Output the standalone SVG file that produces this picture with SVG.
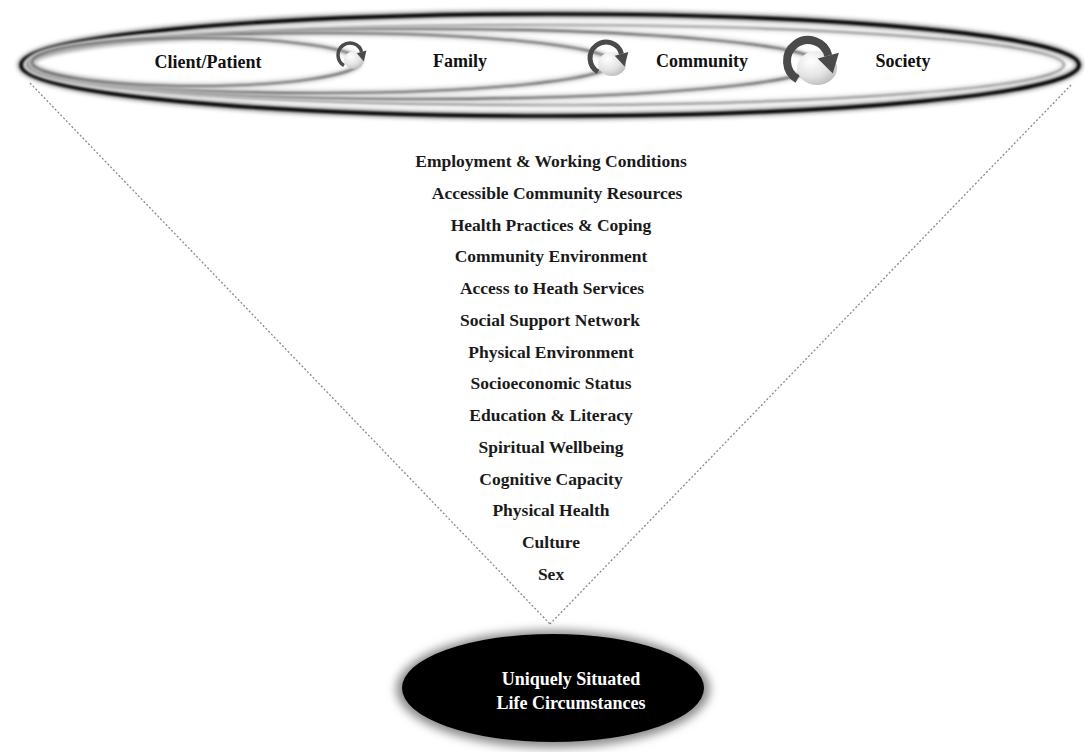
<svg xmlns="http://www.w3.org/2000/svg" width="1085" height="752" viewBox="0 0 1085 752">
  <defs>
    <filter id="soft" x="-5%" y="-30%" width="110%" height="160%">
      <feGaussianBlur stdDeviation="1.1"/>
    </filter>
    <filter id="softer" x="-5%" y="-40%" width="110%" height="180%">
      <feGaussianBlur stdDeviation="2.2"/>
    </filter>
    <filter id="glow" x="-20%" y="-40%" width="140%" height="180%">
      <feGaussianBlur stdDeviation="5"/>
    </filter>
    <radialGradient id="swirlFill" cx="0.35" cy="0.3" r="0.75">
      <stop offset="0" stop-color="#ffffff"/>
      <stop offset="0.6" stop-color="#e4e4e4"/>
      <stop offset="1" stop-color="#bdbdbd"/>
    </radialGradient>
  </defs>
  <style>
    .label { font-family: "Liberation Serif", "Times New Roman", serif; font-weight: bold; font-size: 18px; fill: #111; text-anchor: middle; }
    .factor { font-family: "Liberation Serif", "Times New Roman", serif; font-weight: bold; font-size: 17.5px; fill: #1a1a1a; text-anchor: middle; }
    .core { font-family: "Liberation Serif", "Times New Roman", serif; font-weight: bold; font-size: 18px; fill: #ffffff; text-anchor: middle; }
    .ring-halo { fill: none; stroke: #c4c4c4; stroke-width: 5; }
    .ring-line { fill: none; stroke: #5a5a5a; stroke-width: 1.6; }
    .swirl { fill: none; stroke: #4a4a4a; stroke-linecap: butt; }
    .swirl-head { fill: #4a4a4a; }
    .funnel { fill: none; stroke: #8a8a8a; stroke-width: 1.3; stroke-dasharray: 2 2; }
  </style>

  <rect width="1085" height="752" fill="#ffffff"/>

  <!-- funnel edges from the outer ring down to the core ellipse -->
  <g id="connectors">
    <line class="funnel" x1="30" y1="83" x2="550" y2="624"/>
    <line class="funnel" x1="1071" y1="85" x2="550" y2="624"/>
  </g>

  <!-- Society: outermost ring -->
  <g id="society">
    <ellipse cx="550" cy="65" rx="529" ry="51" fill="none" stroke="#8a8a8a" stroke-width="7" filter="url(#softer)"/>
    <ellipse cx="550" cy="65" rx="529" ry="51" fill="none" stroke="#000" stroke-width="3.2" filter="url(#soft)"/>
    <ellipse cx="546" cy="65" rx="518" ry="40" fill="none" stroke="#d0d0d0" stroke-width="4" filter="url(#softer)"/>
    <ellipse cx="546" cy="65" rx="518" ry="40" fill="none" stroke="#777" stroke-width="1.2" filter="url(#soft)"/>
    <text class="label" x="903" y="67">Society</text>
  </g>

  <!-- Community ring -->
  <g id="community">
    <ellipse class="ring-halo" cx="424" cy="64" rx="396" ry="35" filter="url(#softer)"/>
    <ellipse class="ring-line" cx="424" cy="64" rx="396" ry="35" filter="url(#soft)"/>
    <text class="label" x="702" y="67">Community</text>
  </g>

  <!-- Family ring -->
  <g id="family">
    <ellipse class="ring-halo" cx="322" cy="63" rx="291" ry="30" filter="url(#softer)"/>
    <ellipse class="ring-line" cx="322" cy="63" rx="291" ry="30" filter="url(#soft)"/>
    <text class="label" x="460" y="67">Family</text>
  </g>

  <!-- Client/Patient ring -->
  <g id="client">
    <ellipse class="ring-halo" cx="196" cy="62" rx="164" ry="24" filter="url(#softer)"/>
    <ellipse class="ring-line" cx="196" cy="62" rx="164" ry="24" filter="url(#soft)"/>
    <text class="label" x="208" y="68">Client/Patient</text>
  </g>

  <!-- circular arrows between the rings: arc runs clockwise, head points down on the right -->
  <g id="swirl-client">
    <ellipse cx="354" cy="60" rx="10" ry="9" fill="url(#swirlFill)"/>
    <path class="swirl" stroke-width="3.5" d="M 344 65.4 A 12 12 0 1 1 361.6 51.9"/>
    <polygon class="swirl-head" points="366.4,50.6 356.8,53.2 363.9,61.5"/>
  </g>
  <g id="swirl-family">
    <ellipse cx="612" cy="64" rx="14" ry="12" fill="url(#swirlFill)"/>
    <path class="swirl" stroke-width="5" d="M 598 71.9 A 16 16 0 1 1 621.5 53.9"/>
    <polygon class="swirl-head" points="628.3,52.1 614.7,55.7 624.6,66.5"/>
  </g>
  <g id="swirl-community">
    <ellipse cx="817" cy="68" rx="20" ry="17" fill="url(#swirlFill)"/>
    <path class="swirl" stroke-width="8" d="M 797.5 79.2 A 21 21 0 1 1 828.3 55.6"/>
    <polygon class="swirl-head" points="838.9,52.8 817.7,58.4 832.8,73.5"/>
  </g>

  <!-- determinants listed inside the funnel -->
  <g id="factors">
    <text class="factor" x="551" y="167">Employment &amp; Working Conditions</text>
    <text class="factor" x="557" y="199">Accessible Community Resources</text>
    <text class="factor" x="551" y="231">Health Practices &amp; Coping</text>
    <text class="factor" x="551" y="262">Community Environment</text>
    <text class="factor" x="552" y="294">Access to Heath Services</text>
    <text class="factor" x="550" y="326">Social Support Network</text>
    <text class="factor" x="551" y="358">Physical Environment</text>
    <text class="factor" x="551" y="389">Socioeconomic Status</text>
    <text class="factor" x="551" y="421">Education &amp; Literacy</text>
    <text class="factor" x="551" y="453">Spiritual Wellbeing</text>
    <text class="factor" x="551" y="485">Cognitive Capacity</text>
    <text class="factor" x="551" y="516">Physical Health</text>
    <text class="factor" x="551" y="548">Culture</text>
    <text class="factor" x="551" y="580">Sex</text>
  </g>

  <!-- core: uniquely situated life circumstances -->
  <g id="core">
    <ellipse cx="553" cy="689" rx="157" ry="59" fill="#8c8c8c" filter="url(#glow)"/>
    <ellipse cx="553" cy="688" rx="151" ry="54" fill="#000"/>
    <text class="core" x="571" y="685">Uniquely Situated</text>
    <text class="core" x="571" y="709">Life Circumstances</text>
  </g>
</svg>
